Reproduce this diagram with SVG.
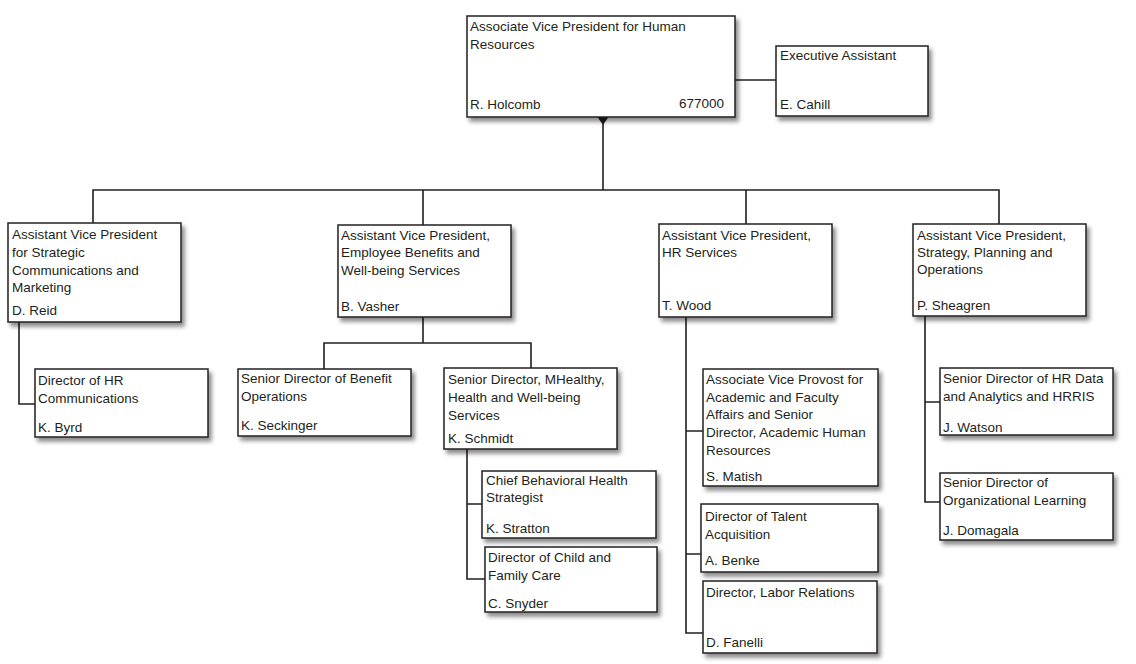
<svg xmlns="http://www.w3.org/2000/svg" width="1136" height="664" viewBox="0 0 1136 664">
<defs>
<filter id="sh" x="-10%" y="-10%" width="130%" height="140%">
<feDropShadow dx="3" dy="4" stdDeviation="2.2" flood-color="#000" flood-opacity="0.45"/>
</filter>
<marker id="tri" markerUnits="userSpaceOnUse" markerWidth="12" markerHeight="12" refX="0" refY="0" viewBox="0 -6 10 12" orient="auto" overflow="visible">
<path d="M0,-5.5 L8,0 L0,5.5 z" fill="#231f20"/>
</marker>
</defs>
<style>
.b{fill:#fff;stroke:#231f20;stroke-width:1.5;filter:url(#sh)}
text{font-family:"Liberation Sans",Arial,sans-serif;font-size:13.5px;fill:#231f20}
.c{fill:none;stroke:#231f20;stroke-width:1.6}
</style>
<rect width="1136" height="664" fill="#fff"/>
<g id="connectors">
<path class="c" d="M735,80 H776"/>
<path class="c" d="M603,117 V190" marker-start="url(#tri)"/>
<path class="c" d="M93,223 V190 H999 V224 M423,190 V225 M746,190 V224"/>
<path class="c" d="M19,322 V404 H35"/>
<path class="c" d="M423,317 V343 M324,369 V343 H531 V368"/>
<path class="c" d="M467,449 V579 H485 M467,504 H482"/>
<path class="c" d="M686,317 V633 H703 M686,431 H703 M686,554 H701"/>
<path class="c" d="M925,316 V502 H940 M925,402 H940"/>
</g>
<g id="n-holcomb">
<rect class="b" x="467" y="16" width="268" height="101"/>
<text x="470" y="31">Associate Vice President for Human</text>
<text x="470" y="49">Resources</text>
<text x="470" y="109">R. Holcomb</text>
<text x="724" y="108" text-anchor="end">677000</text>
</g>
<g id="n-cahill">
<rect class="b" x="776" y="46" width="152" height="70"/>
<text x="780" y="60">Executive Assistant</text>
<text x="780" y="109">E. Cahill</text>
</g>
<g id="n-reid">
<rect class="b" x="8" y="223" width="173" height="99"/>
<text x="12" y="239">Assistant Vice President</text>
<text x="12" y="257">for Strategic</text>
<text x="12" y="275">Communications and</text>
<text x="12" y="292">Marketing</text>
<text x="12" y="315">D. Reid</text>
</g>
<g id="n-vasher">
<rect class="b" x="338" y="225" width="173" height="92"/>
<text x="341" y="240">Assistant Vice President,</text>
<text x="341" y="257">Employee Benefits and</text>
<text x="341" y="275">Well-being Services</text>
<text x="341" y="311">B. Vasher</text>
</g>
<g id="n-wood">
<rect class="b" x="659" y="224" width="173" height="93"/>
<text x="662" y="240">Assistant Vice President,</text>
<text x="662" y="257">HR Services</text>
<text x="662" y="310">T. Wood</text>
</g>
<g id="n-sheagren">
<rect class="b" x="913" y="224" width="173" height="92"/>
<text x="917" y="240">Assistant Vice President,</text>
<text x="917" y="257">Strategy, Planning and</text>
<text x="917" y="274">Operations</text>
<text x="917" y="310">P. Sheagren</text>
</g>
<g id="n-byrd">
<rect class="b" x="35" y="369" width="173" height="68"/>
<text x="38" y="385">Director of HR</text>
<text x="38" y="403">Communications</text>
<text x="38" y="432">K. Byrd</text>
</g>
<g id="n-seckinger">
<rect class="b" x="238" y="369" width="173" height="67"/>
<text x="241" y="383">Senior Director of Benefit</text>
<text x="241" y="401">Operations</text>
<text x="241" y="430">K. Seckinger</text>
</g>
<g id="n-schmidt">
<rect class="b" x="444" y="368" width="173" height="81"/>
<text x="448" y="384">Senior Director, MHealthy,</text>
<text x="448" y="402">Health and Well-being</text>
<text x="448" y="420">Services</text>
<text x="448" y="443">K. Schmidt</text>
</g>
<g id="n-stratton">
<rect class="b" x="482" y="471" width="174" height="67"/>
<text x="486" y="485">Chief Behavioral Health</text>
<text x="486" y="502">Strategist</text>
<text x="486" y="533">K. Stratton</text>
</g>
<g id="n-snyder">
<rect class="b" x="485" y="547" width="172" height="65"/>
<text x="488" y="562">Director of Child and</text>
<text x="488" y="580">Family Care</text>
<text x="488" y="608">C. Snyder</text>
</g>
<g id="n-matish">
<rect class="b" x="703" y="369" width="175" height="117"/>
<text x="706" y="384">Associate Vice Provost for</text>
<text x="706" y="402">Academic and Faculty</text>
<text x="706" y="419">Affairs and Senior</text>
<text x="706" y="437">Director, Academic Human</text>
<text x="706" y="455">Resources</text>
<text x="706" y="481">S. Matish</text>
</g>
<g id="n-benke">
<rect class="b" x="701" y="504" width="177" height="68"/>
<text x="705" y="521">Director of Talent</text>
<text x="705" y="539">Acquisition</text>
<text x="705" y="565">A. Benke</text>
</g>
<g id="n-fanelli">
<rect class="b" x="703" y="581" width="174" height="72"/>
<text x="706" y="597">Director, Labor Relations</text>
<text x="706" y="647">D. Fanelli</text>
</g>
<g id="n-watson">
<rect class="b" x="940" y="368" width="173" height="67"/>
<text x="943" y="383">Senior Director of HR Data</text>
<text x="943" y="401">and Analytics and HRRIS</text>
<text x="943" y="432">J. Watson</text>
</g>
<g id="n-domagala">
<rect class="b" x="940" y="473" width="173" height="67"/>
<text x="943" y="487">Senior Director of</text>
<text x="943" y="505">Organizational Learning</text>
<text x="943" y="535">J. Domagala</text>
</g>
</svg>
